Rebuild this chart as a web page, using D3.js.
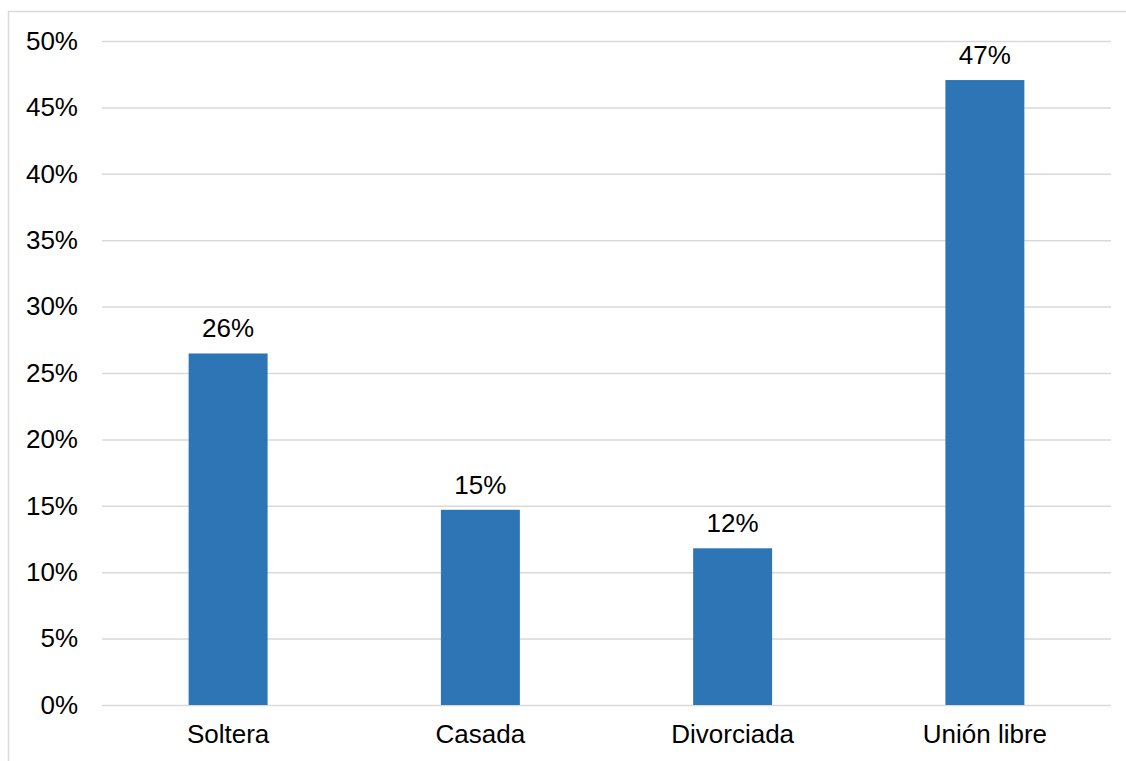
<!DOCTYPE html>
<html>
<head>
<meta charset="utf-8">
<script src="https://cdn.jsdelivr.net/npm/d3@7"></script>
<style>
  html, body { margin: 0; padding: 0; background: #fff; }
  svg { display: block; }
  text { font-family: "Liberation Sans", Arial, sans-serif; fill: #000; }
</style>
</head>
<body>
<svg id="chart" width="1126" height="761"></svg>
<script>
// Estado civil: share of respondents per category
const categories = ["Soltera", "Casada", "Divorciada", "Unión libre"];
const shares = [0.2647, 0.147, 0.118, 0.4706];
const yTicks = [0, 0.05, 0.10, 0.15, 0.20, 0.25, 0.30, 0.35, 0.40, 0.45, 0.50];

const width = 1126, height = 761;
const margin = { top: 41, right: 15, bottom: 56, left: 102 };
const fontSize = 26;

const svg = d3.select("#chart");

// Chart frame (open towards the right and bottom edges)
svg.append("rect")
  .attr("x", 8.5).attr("y", 11.5)
  .attr("width", width + 20).attr("height", height + 20)
  .attr("fill", "none")
  .attr("stroke", "#d9d9d9")
  .attr("stroke-width", 1.5);

const x = d3.scaleBand()
  .domain(categories)
  .range([margin.left, width - margin.right])
  .padding(0);

const y = d3.scaleLinear()
  .domain([0, 0.5])
  .range([height - margin.bottom, margin.top]);

const pct = d3.format(".0%");

// Horizontal gridlines with percentage labels
const yAxis = d3.axisLeft(y)
  .tickValues(yTicks)
  .tickFormat(pct)
  .tickSize(-(width - margin.right - margin.left))
  .tickPadding(24);

const gy = svg.append("g")
  .attr("transform", `translate(${margin.left},0)`)
  .call(yAxis);
gy.select(".domain").remove();
gy.selectAll(".tick line")
  .attr("stroke", "#d9d9d9")
  .attr("stroke-width", 1.5);
gy.selectAll(".tick text")
  .style("font-size", fontSize + "px")
  .attr("fill", "#000");

// Bars
const barW = x.bandwidth() * 0.313;
svg.append("g")
  .selectAll("rect")
  .data(shares)
  .join("rect")
  .attr("x", (d, i) => x(categories[i]) + x.bandwidth() / 2 - barW / 2)
  .attr("y", d => y(d))
  .attr("width", barW)
  .attr("height", d => y(0) - y(d))
  .attr("fill", "#2e75b6");

// Value labels above bars
svg.append("g")
  .selectAll("text")
  .data(shares)
  .join("text")
  .attr("x", (d, i) => x(categories[i]) + x.bandwidth() / 2)
  .attr("y", d => y(d) - 16)
  .attr("text-anchor", "middle")
  .style("font-size", fontSize + "px")
  .text(d => pct(d));

// Category axis labels
const xAxis = d3.axisBottom(x).tickSize(0).tickPadding(20);
const gx = svg.append("g")
  .attr("transform", `translate(0,${y(0)})`)
  .call(xAxis);
gx.select(".domain").remove();
gx.selectAll(".tick text")
  .style("font-size", fontSize + "px")
  .attr("fill", "#000");
</script>
</body>
</html>
